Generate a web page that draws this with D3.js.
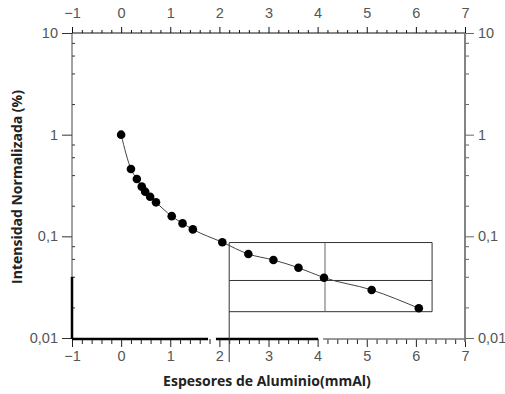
<!DOCTYPE html>
<html>
<head>
<meta charset="utf-8">
<script src="https://cdn.jsdelivr.net/npm/d3@7"></script>
<style>
  body { margin: 0; background: #fff; }
  svg { display: block; font-family: "Open Sans", "Noto Sans", sans-serif; }
</style>
</head>
<body>
<div class="chart"></div>
<script>
// data
const thickness = [0, 0.2, 0.32, 0.42, 0.49, 0.59, 0.71, 1.03, 1.25, 1.46, 2.06, 2.59, 3.10, 3.61, 4.13, 5.10, 6.06];
const intensity = [1.0, 0.46, 0.366, 0.308, 0.275, 0.245, 0.216, 0.158, 0.134, 0.117, 0.0874, 0.067, 0.0585, 0.0491, 0.0392, 0.0297, 0.0196];

const xTicks = [-1, 0, 1, 2, 3, 4, 5, 6, 7];
const yTicks = [0.01, 0.1, 1, 10];
const yTickLabels = ["0,01", "0,1", "1", "10"];

// the little table box drawn over the plot (data units)
const boxX = [2.2, 4.15, 6.33];
const boxY = [0.0869, 0.0368, 0.01815];
const boxLeftBottom = 0.0058;

const width = 505;
const height = 394;

const svg = d3.select(".chart").append("svg")
  .attr("width", width)
  .attr("height", height);

const x = d3.scaleLinear().domain([-1, 7]).range([72, 465]);
const y = d3.scaleLog().domain([0.01, 10]).range([338, 33]);

const xMinor = d3.range(-1, 7.001, 0.2).map(d => +d.toFixed(1)).filter(d => !xTicks.includes(d));
const yMinor = [];
[0.01, 0.1, 1].forEach(dec => [2, 4, 6, 8].forEach(m => yMinor.push(dec * m)));

const labelColor = "#555";
const tickFont = 14.5;
const fmtY = d => yTickLabels[yTicks.indexOf(d)];
const fmtX = d => d < 0 ? "\u2212" + Math.abs(d) : String(d);

function styleAxis(g, color) {
  g.select(".domain").remove();
  g.selectAll("line").attr("stroke", color).attr("stroke-width", 1);
  g.selectAll("text").attr("fill", labelColor).style("font-size", tickFont + "px");
}

// top axis
svg.append("g").attr("transform", "translate(0,33)")
  .call(d3.axisTop(x).tickValues(xTicks).tickSize(6).tickPadding(9).tickFormat(fmtX))
  .call(g => styleAxis(g, "#111"));
svg.append("g").attr("transform", "translate(0,33)")
  .call(d3.axisTop(x).tickValues(xMinor).tickSize(3).tickFormat(""))
  .call(g => styleAxis(g, "#111"));
svg.append("line").attr("x1", x(-1)).attr("x2", x(7)).attr("y1", 33).attr("y2", 33)
  .attr("stroke", "#111").attr("stroke-width", 1.2);

// bottom axis (drawn broken, like the original)
svg.append("g").attr("transform", "translate(0,339)")
  .call(d3.axisBottom(x).tickValues(xTicks).tickSize(8).tickPadding(4).tickFormat(fmtX))
  .call(g => styleAxis(g, "#222"));
svg.append("g").attr("transform", "translate(0,339)")
  .call(d3.axisBottom(x).tickValues(xMinor).tickSize(5).tickFormat(""))
  .call(g => styleAxis(g, "#222"));
svg.append("line").attr("x1", x(-1)).attr("x2", x(1.77)).attr("y1", 339).attr("y2", 339)
  .attr("stroke", "#000").attr("stroke-width", 2.5);
svg.append("line").attr("x1", x(1.93)).attr("x2", x(4.01)).attr("y1", 339).attr("y2", 339)
  .attr("stroke", "#000").attr("stroke-width", 2.5);
svg.append("line").attr("x1", x(4.11)).attr("x2", x(7)).attr("y1", 339).attr("y2", 339)
  .attr("stroke", "#777").attr("stroke-width", 1.5);

// left axis
svg.append("g").attr("transform", "translate(72,0)")
  .call(d3.axisLeft(y).tickValues(yTicks).tickSize(10).tickPadding(4).tickFormat(fmtY))
  .call(g => styleAxis(g, "#333"));
svg.append("g").attr("transform", "translate(72,0)")
  .call(d3.axisRight(y).tickValues(yMinor).tickSize(3).tickFormat(""))
  .call(g => styleAxis(g, "#333"));
svg.append("line").attr("x1", 72).attr("x2", 72).attr("y1", y(10)).attr("y2", y(0.04))
  .attr("stroke", "#444").attr("stroke-width", 1);
svg.append("line").attr("x1", 72).attr("x2", 72).attr("y1", y(0.04)).attr("y2", y(0.01) + 1)
  .attr("stroke", "#000").attr("stroke-width", 2.5);

// right axis
svg.append("g").attr("transform", "translate(465,0)")
  .call(d3.axisRight(y).tickValues(yTicks).tickSize(9).tickPadding(4).tickFormat(fmtY))
  .call(g => styleAxis(g, "#666"));
svg.append("g").attr("transform", "translate(465,0)")
  .call(d3.axisRight(y).tickValues(yMinor).tickSize(4).tickFormat(""))
  .call(g => styleAxis(g, "#666"));
svg.append("line").attr("x1", 465).attr("x2", 465).attr("y1", y(10)).attr("y2", y(0.01) + 4)
  .attr("stroke", "#777").attr("stroke-width", 1.8);

// box lines
const box = svg.append("g").attr("stroke", "#333").attr("stroke-width", 1).attr("fill", "none");
boxY.forEach(v => box.append("line")
  .attr("x1", x(boxX[0])).attr("x2", x(boxX[2]))
  .attr("y1", y(v)).attr("y2", y(v)));
box.append("line").attr("x1", x(boxX[0])).attr("x2", x(boxX[0]))
  .attr("y1", y(boxY[0])).attr("y2", y(boxLeftBottom));
box.append("line").attr("x1", x(boxX[1])).attr("x2", x(boxX[1]))
  .attr("y1", y(boxY[0])).attr("y2", y(boxY[2])).attr("stroke", "#666");
box.append("line").attr("x1", x(boxX[2])).attr("x2", x(boxX[2]))
  .attr("y1", y(boxY[0])).attr("y2", y(boxY[2]));

// curve + points
const pts = thickness.map((t, i) => [t, intensity[i]]);
const line = d3.line().x(d => x(d[0])).y(d => y(d[1])).curve(d3.curveMonotoneX);
svg.append("path")
  .datum(pts)
  .attr("d", line)
  .attr("fill", "none")
  .attr("stroke", "#444")
  .attr("stroke-width", 1);

svg.append("g")
  .selectAll("circle")
  .data(pts)
  .enter()
  .append("circle")
  .attr("cx", d => x(d[0]))
  .attr("cy", d => y(d[1]))
  .attr("r", 4.3)
  .attr("fill", "#000");

// titles
svg.append("text")
  .attr("x", 267).attr("y", 386)
  .attr("text-anchor", "middle")
  .style("font-size", "14px").style("font-weight", "bold")
  .attr("fill", "#222")
  .text("Espesores de Aluminio(mmAl)");

svg.append("text")
  .attr("transform", "translate(22,187) rotate(-90)")
  .attr("text-anchor", "middle")
  .style("font-size", "14px").style("font-weight", "bold")
  .attr("fill", "#222")
  .text("Intensidad Normalizada (%)");
</script>
</body>
</html>
